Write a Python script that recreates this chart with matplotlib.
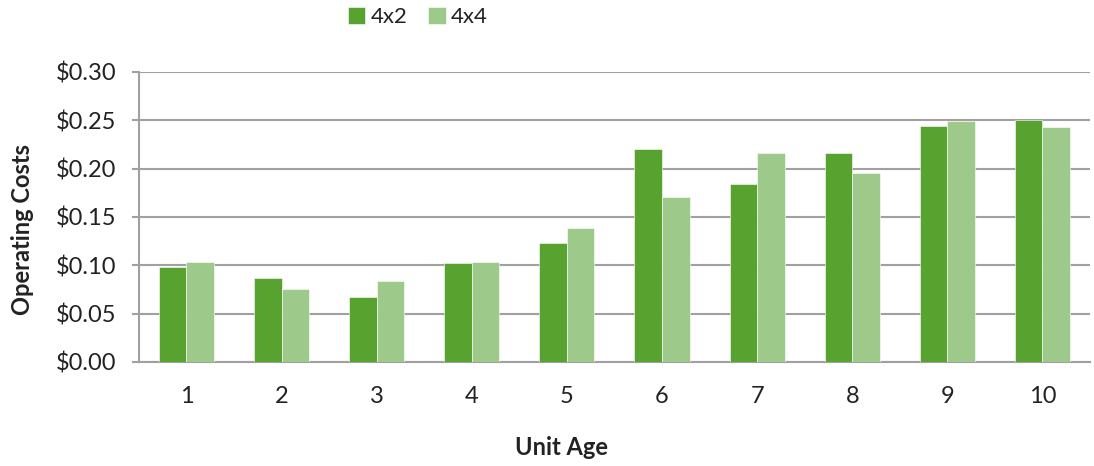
import numpy as np
import matplotlib
matplotlib.use("Agg")
from matplotlib import pyplot as plt
from matplotlib.ticker import FuncFormatter

plt.rcParams['font.family'] = ['Lato', 'DejaVu Sans']

# operating costs per unit age
ages = ['1', '2', '3', '4', '5', '6', '7', '8', '9', '10']
cost_4x2 = [0.098, 0.087, 0.067, 0.102, 0.123, 0.220, 0.184, 0.216, 0.244, 0.250]
cost_4x4 = [0.103, 0.075, 0.084, 0.103, 0.139, 0.171, 0.216, 0.195, 0.249, 0.243]

dark = '#58a22f'
light = '#9dca8a'
grid_col = '#a0a0a0'
txt = '#222222'

fig = plt.figure(figsize=(10.94, 4.66), dpi=100)
ax = fig.add_axes([0.127, 0.2232, 0.8693, 0.6223])

x = np.arange(len(ages))
w = 0.29
ax.bar(x - w / 2, cost_4x2, w, color=dark, label='4x2', zorder=3,
       edgecolor='white', linewidth=0.4)
ax.bar(x + w / 2, cost_4x4, w, color=light, label='4x4', zorder=3,
       edgecolor='white', linewidth=0.4)

ax.set_xlim(-0.5, len(ages) - 0.5)
ax.set_ylim(0, 0.30)
ax.set_yticks(np.arange(0, 0.301, 0.05))
ax.yaxis.set_major_formatter(FuncFormatter(lambda v, p: '${:.2f}'.format(v)))
ax.set_xticks(x)
ax.set_xticklabels(ages)

ax.grid(axis='y', color=grid_col, linewidth=1.5, zorder=0)
for s in ['top', 'right']:
    ax.spines[s].set_visible(False)
for s in ['left', 'bottom']:
    ax.spines[s].set_color(grid_col)
    ax.spines[s].set_linewidth(1.5)
ax.spines['left'].set_zorder(4)

ax.tick_params(axis='y', length=5, width=1.5, color=grid_col, labelsize=17,
               labelcolor=txt, pad=11)
ax.tick_params(axis='x', length=0, labelsize=17, labelcolor=txt, pad=17)

fig.text(0.021, 0.508, 'Operating Costs', rotation=90, ha='center', va='center',
         fontsize=17, fontweight='bold', color=txt)
fig.text(0.513, 0.040, 'Unit Age', ha='center', va='center',
         fontsize=17, fontweight='bold', color=txt)

fig.legend(loc='center', bbox_to_anchor=(0.382, 0.963), ncol=2, frameon=False,
           fontsize=16, handlelength=0.8, handleheight=0.8, handletextpad=0.25,
           columnspacing=0.9, labelcolor=txt)

fig.savefig('out.png', dpi=100)
